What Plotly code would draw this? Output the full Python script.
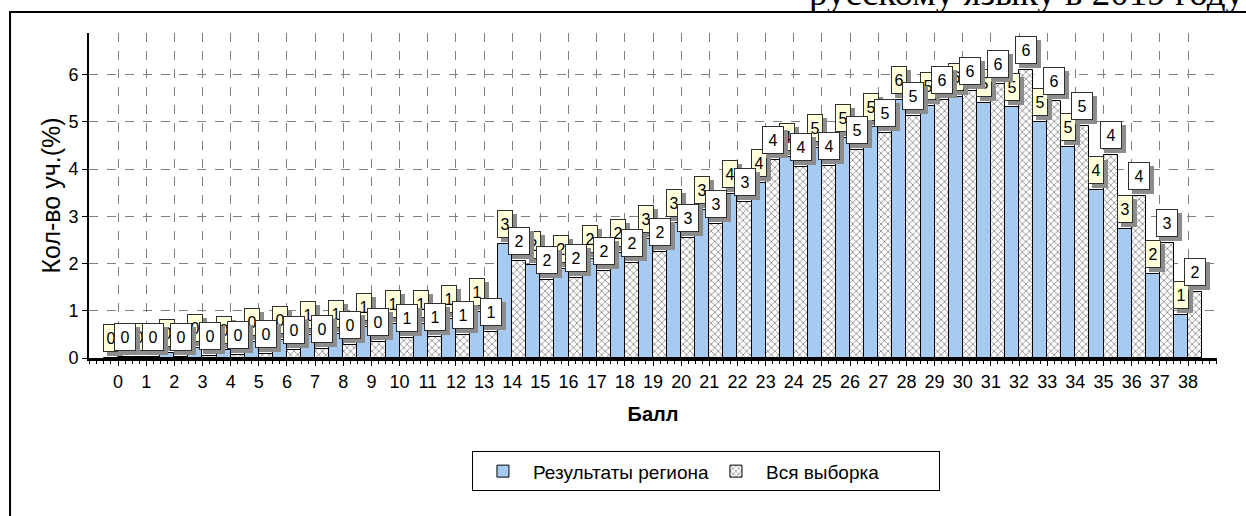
import plotly.graph_objects as go

# ---------------- data ----------------
scores = list(range(39))
tick_labels = [str(s) for s in scores]

region_pct = [0.01, 0.02, 0.11, 0.21, 0.18, 0.34, 0.39, 0.48, 0.51, 0.66,
              0.73, 0.73, 0.83, 0.97, 2.41, 1.97, 1.88, 2.09, 2.22, 2.52,
              2.86, 3.14, 3.47, 3.71, 4.26, 4.44, 4.66, 4.90, 5.46, 5.33,
              5.52, 5.40, 5.31, 4.99, 4.46, 3.55, 2.73, 1.77, 0.90]

all_pct = [0.03, 0.03, 0.03, 0.04, 0.06, 0.08, 0.16, 0.20, 0.27, 0.33,
           0.42, 0.44, 0.49, 0.56, 2.05, 1.65, 1.69, 1.85, 2.02, 2.25,
           2.54, 2.84, 3.30, 4.20, 4.05, 4.06, 4.40, 4.77, 5.12, 5.47,
           5.65, 5.79, 6.10, 5.44, 4.91, 4.30, 3.44, 2.43, 1.39]

region_labels = ["0", "0", "0", "0", "0", "0", "0", "1", "1", "1",
                 "1", "1", "1", "1", "3", "2", "2", "2", "2", "3",
                 "3", "3", "4", "4", "4", "5", "5", "5", "6", "5",
                 "6", "5", "5", "5", "5", "4", "3", "2", "1"]

all_labels = ["0", "0", "0", "0", "0", "0", "0", "0", "0", "0",
              "1", "1", "1", "1", "2", "2", "2", "2", "2", "2",
              "3", "3", "3", "4", "4", "4", "5", "5", "5", "6",
              "6", "6", "6", "6", "5", "4", "4", "3", "2"]

y_ticks = [0, 1, 2, 3, 4, 5, 6]

series_names = ["Результаты региона", "Вся выборка"]
x_title = "Балл"
y_title = "Кол-во уч.(%)"
top_text = "русскому языку в 2019 году"

# ---------------- styling ----------------
SANS = "Liberation Sans, Arial, sans-serif"
SERIF = "Liberation Serif, Times New Roman, serif"
BLUE = "#A6CAF0"
YELLOW = "#FFFFDC"
SHADOW = "#8C8C8C"

fig = go.Figure()
fig.add_bar(
    x=scores, y=region_pct, name=series_names[0],
    marker=dict(color=BLUE, line=dict(color="#000000", width=1)),
)
fig.add_bar(
    x=scores, y=all_pct, name=series_names[1],
    marker=dict(
        color="#FFFFFF", line=dict(color="#000000", width=1),
        pattern=dict(shape="x", fgcolor="#6E6E6E", bgcolor="#FFFFFF",
                     size=5, solidity=0.25, fillmode="replace"),
    ),
)

annotations = []


def add_label(xv, yv, text, bg, w):
    # shadow
    annotations.append(dict(
        x=xv, y=yv, xref="x", yref="y", text=" ", showarrow=False,
        xanchor="center", yanchor="bottom", xshift=4, yshift=2,
        width=w, height=24, bgcolor=SHADOW, bordercolor=SHADOW,
        borderwidth=1, borderpad=1, font=dict(family=SANS, size=15),
    ))
    annotations.append(dict(
        x=xv, y=yv, xref="x", yref="y", text=text, showarrow=False,
        xanchor="center", yanchor="bottom", xshift=0, yshift=6,
        width=w, height=24, bgcolor=bg, bordercolor="#303030",
        borderwidth=1, borderpad=1,
        font=dict(family=SANS, size=16, color="#000000"),
    ))


for s, v, t in zip(scores, region_pct, region_labels):
    add_label(s - 0.25, v, t, YELLOW, 12)
for s, v, t in zip(scores, all_pct, all_labels):
    add_label(s + 0.25, v, t, "#FFFFFF", 18)

annotations.append(dict(
    x=1.027, y=1.0645, xref="paper", yref="paper", text=top_text,
    showarrow=False, xanchor="right", yanchor="bottom", yshift=-3,
    font=dict(family=SERIF, size=37, color="#000000"),
))

fig.update_layout(
    width=1246, height=516,
    margin=dict(l=89, r=29, t=33, b=157.5, pad=0),
    paper_bgcolor="#FFFFFF", plot_bgcolor="#FFFFFF",
    barmode="group", bargap=0, bargroupgap=0,
    showlegend=True,
    legend=dict(
        orientation="h", x=0.3395, xanchor="left", y=-0.287, yanchor="top",
        bordercolor="#000000", borderwidth=1, bgcolor="#FFFFFF",
        font=dict(family=SANS, size=19, color="#000000"),
        entrywidth=168, entrywidthmode="pixels", itemwidth=50,
        traceorder="normal",
    ),
    xaxis=dict(
        range=[-1.03, 39.03], tickmode="array", tickvals=scores,
        ticktext=tick_labels, showgrid=True, gridcolor="#808080",
        griddash="dash", gridwidth=1, zeroline=False, automargin=False,
        showline=True, linecolor="#000000", linewidth=3,
        ticks="outside", ticklen=5, tickcolor="#000000",
        minor=dict(dtick=0.25, tick0=0, ticks="outside", ticklen=3,
                   tickcolor="#000000", showgrid=False),
        tickfont=dict(family=SANS, size=18, color="#000000"),
        title=dict(text="<b>" + x_title + "</b>", standoff=17,
                   font=dict(family=SANS, size=20, color="#000000")),
    ),
    yaxis=dict(
        range=[0, 6.88], tickmode="array", tickvals=y_ticks,
        showgrid=True, gridcolor="#808080", griddash="dash", gridwidth=1,
        zeroline=False, showline=True, linecolor="#000000", linewidth=2,
        automargin=False,
        ticks="outside", ticklen=5, tickcolor="#000000",
        tickfont=dict(family=SANS, size=18, color="#000000"),
        title=dict(text=y_title, standoff=1,
                   font=dict(family=SANS, size=25, color="#000000")),
    ),
    annotations=annotations,
    shapes=[dict(
        type="rect", xref="paper", yref="paper",
        x0=-0.0700, x1=1.06, y0=-0.6, y1=1.0645,
        line=dict(color="#000000", width=2), fillcolor="rgba(0,0,0,0)",
        layer="above",
    )],
)

fig.write_html(
    "out.html",
    config={"displayModeBar": False},
    post_script="document.body.style.margin='0';document.body.style.overflow='hidden';",
)
